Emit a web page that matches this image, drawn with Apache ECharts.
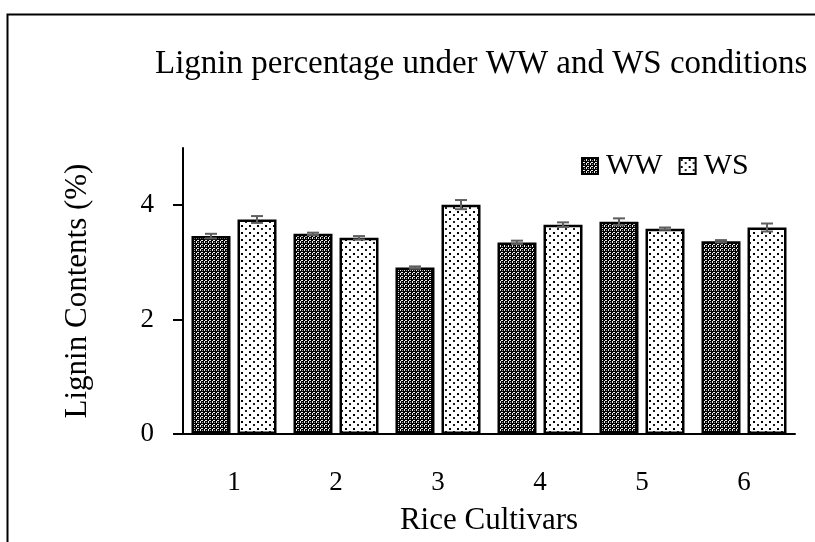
<!DOCTYPE html>
<html>
<head>
<meta charset="utf-8">
<script src="https://cdn.jsdelivr.net/npm/echarts@6/dist/echarts.min.js"></script>
<style>
  html, body { margin: 0; padding: 0; background: #fff; }
  #root { width: 815px; height: 542px; }
</style>
</head>
<body>
<div id="root"></div>
<script>
var cultivars = ['1', '2', '3', '4', '5', '6'];
var wwValues = [3.46, 3.50, 2.91, 3.35, 3.71, 3.37];
var wsValues = [3.75, 3.43, 4.01, 3.66, 3.59, 3.61];
var wwErrors = [0.04, 0.02, 0.02, 0.03, 0.06, 0.02];
var wsErrors = [0.06, 0.03, 0.08, 0.04, 0.02, 0.07];

var FONT = '"Liberation Serif", "Times New Roman", serif';
var BAR_W = 39;
var BAR_GAP = 0.18;

var makePattern = (kind) => {
  const c = document.createElement('canvas');
  const ctx = c.getContext('2d');
  if (kind === 'ww') {
    c.width = 4; c.height = 4;
    ctx.fillStyle = '#000';
    ctx.fillRect(0, 0, 4, 4);
    ctx.fillStyle = '#f0f0f0';
    ctx.fillRect(0, 1, 1, 2);
    ctx.fillRect(1, 0, 2, 1);
    ctx.fillStyle = '#9a9a9a';
    ctx.fillRect(2, 2, 1, 1);
  } else {
    c.width = 8; c.height = 7;
    ctx.fillStyle = '#fff';
    ctx.fillRect(0, 0, 8, 7);
    ctx.fillStyle = '#000';
    ctx.fillRect(1, 1, 2, 2);
    ctx.fillStyle = '#222';
    ctx.fillRect(5, 4, 2, 2);
  }
  return { image: c, repeat: 'repeat' };
};

var errorSeries = (name, values, errors, side) => {
  const offset = side * BAR_W * (1 + BAR_GAP) / 2;
  return {
    name: name + ' err',
    type: 'custom',
    z: 5,
    data: values.map((v, i) => [i, v, errors[i]]),
    renderItem: (params, api) => {
      const i = api.value(0), v = api.value(1), e = api.value(2);
      const top = api.coord([i, v + e]);
      const bot = api.coord([i, v - e]);
      const x = top[0] + offset;
      const style = { stroke: '#5f5f5f', lineWidth: 2 };
      return {
        type: 'group',
        children: [
          { type: 'line', shape: { x1: x, y1: top[1], x2: x, y2: bot[1] }, style },
          { type: 'line', shape: { x1: x - 6, y1: top[1], x2: x + 6, y2: top[1] }, style },
          { type: 'line', shape: { x1: x - 6, y1: bot[1], x2: x + 6, y2: bot[1] }, style }
        ]
      };
    }
  };
};

var chart = echarts.init(document.getElementById('root'));
chart.setOption({
  animation: false,
  backgroundColor: '#fff',
  textStyle: { fontFamily: FONT, color: '#000' },
  title: {
    text: 'Lignin percentage under WW and WS conditions',
    left: 150, top: 43,
    textStyle: { fontFamily: FONT, fontSize: 33, fontWeight: 'normal', color: '#000' }
  },
  graphic: [{
    type: 'rect', left: 5, top: 12, silent: true,
    shape: { width: 840, height: 580 },
    style: { fill: 'none', stroke: '#000', lineWidth: 2 }
  }],
  legend: {
    left: 576, top: 146,
    itemWidth: 16, itemHeight: 16, itemGap: 16,
    icon: 'rect',
    data: ['WW', 'WS'],
    textStyle: { fontFamily: FONT, fontSize: 30, color: '#000', padding: [0, 0, 0, 3] }
  },
  grid: { left: 183, right: 20, top: 148, bottom: 108, containLabel: false },
  xAxis: {
    type: 'category',
    data: cultivars,
    name: 'Rice Cultivars',
    nameLocation: 'middle',
    nameGap: 71,
    nameTextStyle: { fontFamily: FONT, fontSize: 31, color: '#000' },
    axisLine: { lineStyle: { color: '#000', width: 2 } },
    axisTick: { show: false },
    axisLabel: { fontFamily: FONT, fontSize: 27, color: '#000', margin: 35 }
  },
  yAxis: {
    type: 'value',
    min: 0, max: 5, interval: 2,
    name: 'Lignin Contents (%)',
    nameLocation: 'middle',
    nameGap: 90,
    nameTextStyle: { fontFamily: FONT, fontSize: 31, color: '#000' },
    splitLine: { show: false },
    axisLine: { show: true, lineStyle: { color: '#000', width: 2 } },
    axisTick: { show: true, length: 10, lineStyle: { color: '#000', width: 2 } },
    axisLabel: { fontFamily: FONT, fontSize: 27, color: '#000', margin: 29, showMaxLabel: false }
  },
  series: [
    {
      name: 'WW', type: 'bar', data: wwValues,
      barWidth: BAR_W, barGap: (BAR_GAP * 100) + '%',
      itemStyle: { color: makePattern('ww'), borderColor: '#000', borderWidth: 2.5 }
    },
    {
      name: 'WS', type: 'bar', data: wsValues,
      barWidth: BAR_W,
      itemStyle: { color: makePattern('ws'), borderColor: '#000', borderWidth: 2.5 }
    },
    errorSeries('WW', wwValues, wwErrors, -1),
    errorSeries('WS', wsValues, wsErrors, 1)
  ]
});
</script>
</body>
</html>
